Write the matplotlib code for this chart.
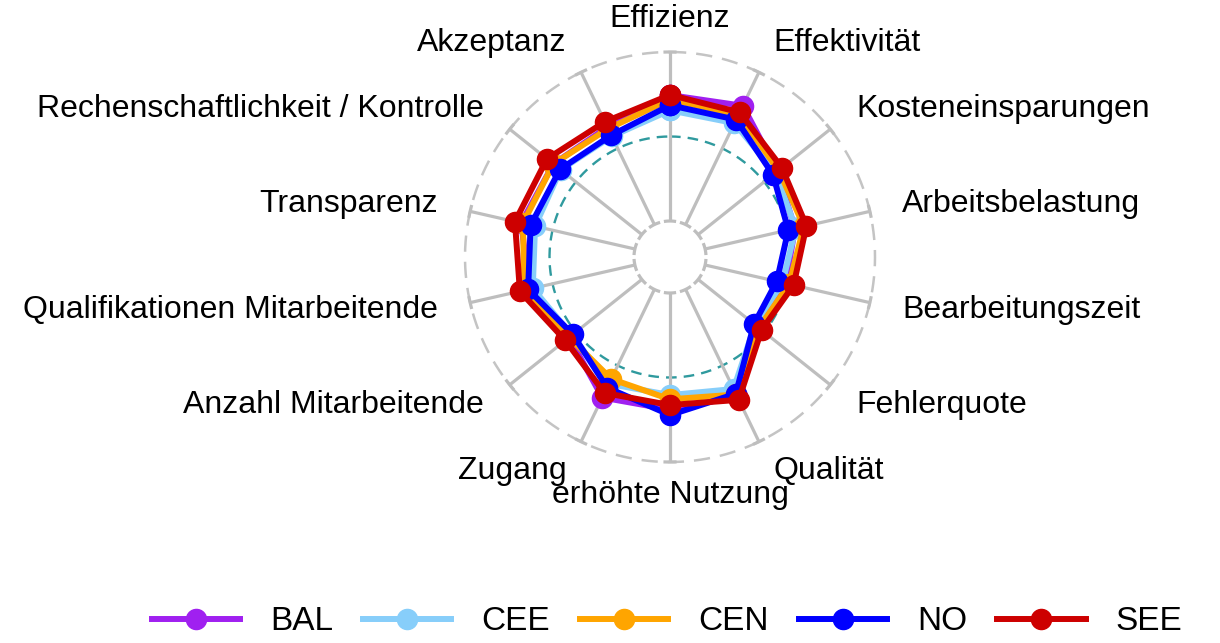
import numpy as np
import matplotlib
matplotlib.use("Agg")
from matplotlib import pyplot as plt

plt.rcParams['font.family'] = ['Liberation Sans', 'DejaVu Sans']

# Achsen (im Uhrzeigersinn ab oben)
kategorien = ['Effizienz', 'Effektivität', 'Kosteneinsparungen', 'Arbeitsbelastung',
              'Bearbeitungszeit', 'Fehlerquote', 'Qualität', 'erhöhte Nutzung',
              'Zugang', 'Anzahl Mitarbeitende', 'Qualifikationen Mitarbeitende',
              'Transparenz', 'Rechenschaftlichkeit / Kontrolle', 'Akzeptanz']

# Werte pro Region (skaliert 0..1 zwischen grid.min und grid.max)
bal = [0.745, 0.78, 0.60, 0.545, 0.49, 0.44, 0.70, 0.69, 0.71, 0.55, 0.64, 0.69, 0.67, 0.64]
cee = [0.655, 0.666, 0.585, 0.55, 0.47, 0.43, 0.654, 0.604, 0.62, 0.53, 0.62, 0.606, 0.615, 0.58]
cen = [0.72, 0.72, 0.61, 0.60, 0.51, 0.46, 0.69, 0.629, 0.588, 0.55, 0.67, 0.68, 0.67, 0.63]
no = [0.685, 0.689, 0.567, 0.505, 0.435, 0.423, 0.685, 0.722, 0.645, 0.522, 0.648, 0.633, 0.619, 0.587]
see = [0.746, 0.737, 0.634, 0.615, 0.537, 0.48, 0.725, 0.663, 0.68, 0.579, 0.698, 0.728, 0.718, 0.675]

regionen = ['BAL', 'CEE', 'CEN', 'NO', 'SEE']
serien = [bal, cee, cen, no, see]
farben = ['#A020F0', '#87CEFA', '#FFA500', '#0000FF', '#CD0000']

fig = plt.figure(figsize=(12.2, 6.43), dpi=100)
# Kreis: Mitte (670, 257) px, Radius 205 px
ax = fig.add_axes([465 / 1220, 181 / 643, 410 / 1220, 410 / 643], projection='polar')
ax.set_theta_zero_location('N')
ax.set_theta_direction(-1)
ax.set_rlim(0, 1)
ax.set_rorigin(-36 / 169)
ax.grid(False)
ax.set_xticks([])
ax.set_yticks([])
ax.set_frame_on(False)
for s in ax.spines.values():
    s.set_visible(False)

n = len(kategorien)
winkel = np.arange(n) * 2 * np.pi / n
kreis = np.linspace(0, 2 * np.pi, 400)

#Gitter
grau = '#BEBEBE'
ax.plot(kreis, np.ones_like(kreis), color='#C4C4C4', lw=1.8, ls=(0, (6.5, 4)), clip_on=False, zorder=1)
ax.plot(kreis, np.full_like(kreis, 0.5), color='#2F9A9E', lw=1.7, ls=(0, (4.5, 3)), zorder=1)
for w in winkel:
    ax.plot([w, w], [0, 1], color=grau, lw=2.3, solid_capstyle='butt', clip_on=False, zorder=1)
    t = np.linspace(w - 0.032, w + 0.032, 10)
    ax.plot(t, np.ones_like(t), color=grau, lw=2.3, solid_capstyle='butt', clip_on=False, zorder=1)
    t = np.linspace(w - 0.17, w + 0.17, 20)
    ax.plot(t, np.zeros_like(t), color=grau, lw=2.3, solid_capstyle='butt', clip_on=False, zorder=1)

#Daten
linien = []
for name, werte, farbe in zip(regionen, serien, farben):
    th = np.append(winkel, winkel[0])
    rr = np.append(werte, werte[0])
    l, = ax.plot(th, rr, color=farbe, lw=4.3, marker='o', markersize=14.5,
                 label=name, clip_on=False, zorder=3)
    linien.append(l)

#Beschriftung der Achsen
for w, name in zip(winkel, kategorien):
    s = np.sin(w)
    if s > 0.01:
        ha = 'left'
    elif s < -0.01:
        ha = 'right'
    else:
        ha = 'center'
    ax.text(w, 1.195, name, ha=ha, va='center', fontsize=23, color='black')

fig.legend(handles=linien, loc='center', bbox_to_anchor=(667 / 1220, 1 - 622 / 643),
           ncol=5, frameon=False, fontsize=24, handlelength=2.65, handletextpad=0.9,
           columnspacing=0.9)

fig.savefig('out.png', dpi=100)
